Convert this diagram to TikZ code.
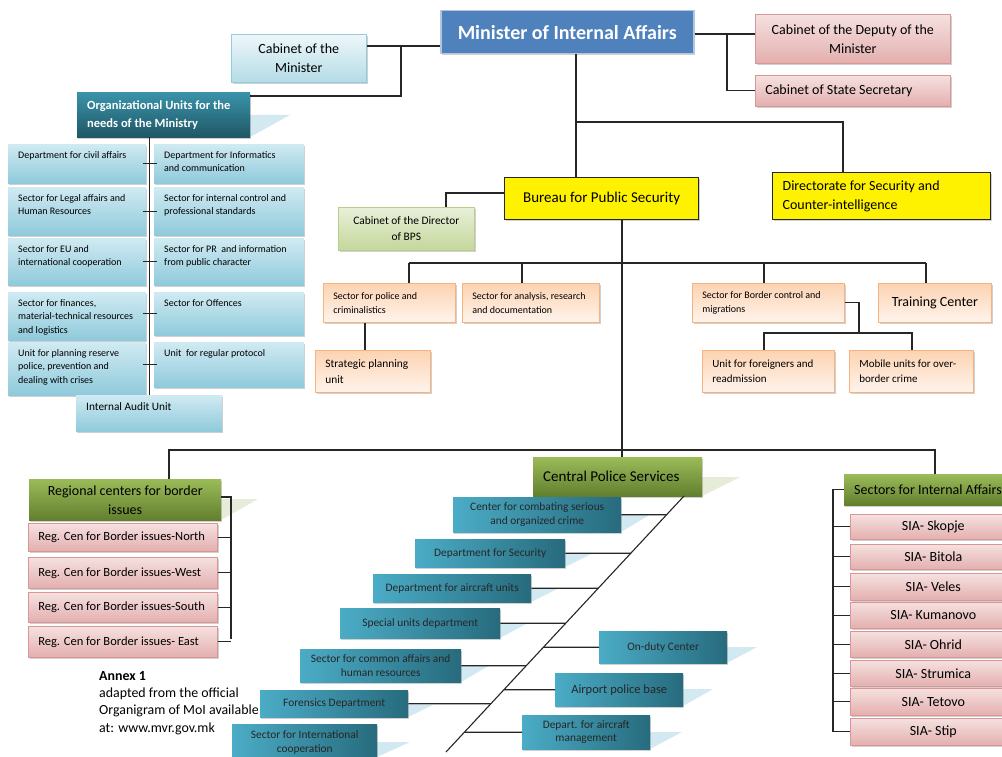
\documentclass[tikz,border=0pt]{standalone}
\usepackage{fontspec}
\setmainfont{Carlito}
\usetikzlibrary{shadows,intersections}
\definecolor{minblue}{HTML}{4F81BD}
\definecolor{lbA}{HTML}{EEF7FA}
\definecolor{lbB}{HTML}{B4DCE7}
\definecolor{lbD}{HTML}{93CDDD}
\definecolor{orgA}{HTML}{D0EAF2}
\definecolor{orgB}{HTML}{8FCADB}
\definecolor{thA}{HTML}{3A93AA}
\definecolor{thB}{HTML}{1F5766}
\definecolor{pkA}{HTML}{F5E1E0}
\definecolor{pkB}{HTML}{E3AFAE}
\definecolor{pkD}{HTML}{D99694}
\definecolor{orA}{HTML}{FCD3B2}
\definecolor{orB}{HTML}{FFF4EC}
\definecolor{orD}{HTML}{F9B27E}
\definecolor{lgA}{HTML}{E8F0D9}
\definecolor{lgB}{HTML}{C4D79B}
\definecolor{lgD}{HTML}{B9CE8C}
\definecolor{gA}{HTML}{9BBB59}
\definecolor{gB}{HTML}{627F2E}
\definecolor{tA}{HTML}{4BACC6}
\definecolor{tB}{HTML}{276B7D}
\definecolor{ltblue}{HTML}{D2E9F1}
\definecolor{ltgreen}{HTML}{E5EDD8}
\newcommand\bx[7]{\pgfmathsetmacro\bw{#5-#3}\pgfmathsetmacro\bh{#6-#4}%
  \node[box,align=center,#1,minimum width=\bw pt,minimum height=\bh pt] (#2) at (#3,#4) {#7};}
\newcommand\lbx[7]{\pgfmathsetmacro\bw{#5-#3}\pgfmathsetmacro\bh{#6-#4}\pgfmathsetmacro\tw{#5-#3-12}%
  \node[box,#1,minimum width=\bw pt,minimum height=\bh pt] (#2) at (#3,#4) {\hspace*{10pt}\parbox{\tw pt}{\raggedright #7}\hspace*{2pt}};}
\newcommand\tbx[7]{\pgfmathsetmacro\bw{#5-#3}\pgfmathsetmacro\bh{#6-#4}\pgfmathsetmacro\tw{#5-#3-12}%
  \node[box,#1,minimum width=\bw pt,minimum height=\bh pt] (#2) at (#3,#4) {\hspace*{10pt}\parbox[c][\bh pt][t]{\tw pt}{\vspace*{7pt}\raggedright #7}\hspace*{2pt}};}
\newcommand\tri[5]{\fill[#1] (#2,#3) -- ++(#4,0) -- (#2,#5) -- cycle;}
\newcommand\todiag[2]{\path[name path=hl] ([xshift=-400pt]#1.center) -- ([xshift=400pt]#1.center);
  \draw[conn,name intersections={of=diag and hl}] (#1.#2) -- (intersection-1);}
\begin{document}
\begin{tikzpicture}[x=1pt,y=-1pt,
  conn/.style={draw=black!85,line width=1.1pt},
  sh/.style={drop shadow={shadow xshift=1.2pt,shadow yshift=-1.5pt,opacity=.3,fill=black!60}},
  box/.style={anchor=north west,inner sep=0pt,sh},
  minst/.style={fill=minblue,draw=minblue!45,line width=1.5pt,text=white,font=\bfseries\fontsize{20}{23}\selectfont},
  lblue/.style={top color=lbA,bottom color=lbB,draw=lbD,line width=.6pt},
  orgb/.style={top color=orgA,bottom color=orgB,draw=none},
  tealhd/.style={top color=thA,bottom color=thB,text=white,font=\bfseries\fontsize{12.5}{18}\selectfont},
  pinkbox/.style={top color=pkA,bottom color=pkB,draw=pkD,line width=.6pt},
  orng/.style={top color=orA,bottom color=orB,draw=orD,line width=.8pt},
  yel/.style={fill=yellow,draw=black!85,line width=1.3pt},
  lgreen/.style={top color=lgA,bottom color=lgB,draw=lgD,line width=.6pt},
  ghd/.style={top color=gA,bottom color=gB,text=black},
  tealb/.style={left color=tA,right color=tB,text=black!85},
  f10/.style={font=\fontsize{10}{13.5}\selectfont},
  f11/.style={font=\fontsize{11}{15}\selectfont},
  f113/.style={font=\fontsize{11.3}{14}\selectfont},
  f114/.style={font=\fontsize{11.4}{13.6}\selectfont},
  f114b/.style={font=\fontsize{11.4}{16}\selectfont},
  f125/.style={font=\fontsize{12.5}{15}\selectfont},
  f14/.style={font=\fontsize{14}{19}\selectfont},
  f15/.style={font=\fontsize{15}{18}\selectfont}]
\useasboundingbox (0,0) rectangle (1002,757);
\fill[white] (0,0) rectangle (1002,757);

% perspective reflections
\tri{ltblue}{250}{115}{40}{137}
\tri{ltgreen}{702}{477}{38}{496}
\tri{ltgreen}{221}{499}{37}{520}
\tri{ltblue}{621}{514}{30}{532}
\tri{ltblue}{565}{553}{28}{567}
\tri{ltblue}{531}{589}{26}{602}
\tri{ltblue}{500}{623}{28}{638}
\tri{ltblue}{461}{665}{29}{682}
\tri{ltblue}{408}{705}{25}{717}
\tri{ltblue}{377}{742}{33}{757}
\tri{ltblue}{727}{647}{30}{663}
\tri{ltblue}{683}{689}{30}{706}
\tri{ltblue}{650}{732}{32}{749}

% top level
\bx{minst}{minister}{440}{10}{693}{53}{Minister of Internal Affairs}
\bx{lblue,f14}{cabmin}{231}{34}{366}{82}{Cabinet of the\\Minister}
\bx{pinkbox,f14}{deputy}{755}{14}{950}{63}{Cabinet of the Deputy of the\\Minister}
\lbx{pinkbox,f14}{statesec}{755}{75}{950}{106}{Cabinet of State Secretary}
\lbx{tealhd}{orgunits}{77}{92}{250}{137}{Organizational Units for the\\needs of the Ministry}

% organizational units
\tbx{orgb,f10}{r1L}{8}{144}{146}{183}{Department for civil affairs}
\tbx{orgb,f10}{r1R}{154}{144}{304}{183}{Department for Informatics\\and communication}
\tbx{orgb,f10}{r2L}{8}{187}{146}{235}{Sector for Legal affairs and\\Human Resources}
\tbx{orgb,f10}{r2R}{154}{187}{304}{235}{Sector for internal control and\\professional standards}
\tbx{orgb,f10}{r3L}{8}{238}{146}{285}{Sector for EU and\\international cooperation}
\tbx{orgb,f10}{r3R}{154}{238}{304}{285}{Sector for PR\ \ and information\\from public character}
\tbx{orgb,f10}{r4L}{8}{292}{146}{340}{Sector for finances,\\material-technical resources\\and logistics}
\tbx{orgb,f10}{r4R}{154}{292}{304}{335}{Sector for Offences}
\tbx{orgb,f10}{r5L}{8}{342}{146}{395}{Unit for planning reserve\\police, prevention and\\dealing with crises}
\tbx{orgb,f10}{r5R}{154}{342}{304}{387}{Unit\ \ for regular protocol}
\tbx{orgb,f113}{audit}{76}{395}{222}{431}{Internal Audit Unit}

% bureau
\bx{yel,f15}{bureau}{504}{177}{698}{219}{Bureau for Public Security}
\lbx{yel,f14}{directorate}{772}{172}{990}{219}{Directorate for Security and\\Counter-intelligence}
\bx{lgreen,f114b}{cabdir}{338}{207}{474}{250}{Cabinet of the Director\\of BPS}
\lbx{orng,f10}{police}{323}{283}{455}{322}{Sector for police and\\criminalistics}
\lbx{orng,f10}{analysis}{462}{283}{599}{322}{Sector for analysis, research\\and documentation}
\lbx{orng,f114b}{strategic}{315}{350}{430}{392}{Strategic planning\\unit}
\lbx{orng,f10}{border}{692}{283}{844}{322}{Sector for Border control and\\migrations}
\bx{orng,f14}{training}{878}{283}{991}{322}{Training Center}
\lbx{orng,f11}{foreigners}{702}{350}{834}{392}{Unit for foreigners and\\readmission}
\lbx{orng,f11}{mobile}{849}{350}{973}{392}{Mobile units for over-\\border crime}

% regional centers
\bx{ghd,f14}{regional}{29}{479}{221}{520}{Regional centers for border\\issues}
\lbx{pinkbox,f125}{regN}{28}{523}{217}{551}{Reg. Cen for Border issues-North}
\lbx{pinkbox,f125}{regW}{28}{557}{217}{588}{Reg. Cen for Border issues-West}
\lbx{pinkbox,f125}{regS}{28}{592}{217}{622}{Reg. Cen for Border issues-South}
\lbx{pinkbox,f125}{regE}{28}{626}{217}{657}{Reg. Cen for Border issues- East}

% central police services
\lbx{ghd,f15}{central}{533}{457}{702}{496}{Central Police Services}
\bx{tealb,f114}{combat}{453}{497}{621}{532}{Center for combating serious\\and organized crime}
\bx{tealb,f114}{security}{415}{539}{565}{567}{Department for Security}
\bx{tealb,f114}{aircraft}{373}{574}{531}{602}{Department for aircraft units}
\bx{tealb,f114}{special}{340}{608}{500}{638}{Special units department}
\bx{tealb,f114}{onduty}{599}{631}{727}{663}{On-duty Center}
\bx{tealb,f114}{common}{300}{649}{461}{682}{Sector for common affairs and\\human resources}
\bx{tealb,f125}{airport}{555}{673}{683}{706}{Airport police base}
\bx{tealb,f114}{forensics}{260}{690}{408}{717}{Forensics Department}
\bx{tealb,f114}{mgmt}{522}{715}{650}{749}{Depart. for aircraft\\management}
\bx{tealb,f114}{intl}{232}{724}{377}{761}{Sector for International\\cooperation}

% sectors for internal affairs
\lbx{ghd,f14}{sectors}{844}{474}{1020}{505}{Sectors for Internal Affairs}
\bx{pinkbox,f14}{sia1}{850}{514}{1016}{539}{SIA- Skopje}
\bx{pinkbox,f14}{sia2}{850}{544}{1016}{569}{SIA- Bitola}
\bx{pinkbox,f14}{sia3}{850}{573}{1016}{600}{SIA- Veles}
\bx{pinkbox,f14}{sia4}{850}{602}{1016}{628}{SIA- Kumanovo}
\bx{pinkbox,f14}{sia5}{850}{631}{1016}{657}{SIA- Ohrid}
\bx{pinkbox,f14}{sia6}{850}{660}{1016}{686}{SIA- Strumica}
\bx{pinkbox,f14}{sia7}{850}{688}{1016}{715}{SIA- Tetovo}
\bx{pinkbox,f14}{sia8}{850}{718}{1016}{745}{SIA- Stip}

\node[anchor=north west,align=left,inner sep=0pt,font=\fontsize{13.9}{17.3}\selectfont] (annex) at (99,671)
  {\textbf{Annex 1}\\adapted from the official\\Organigram of MoI available\\at: www.mvr.gov.mk};

% connectors: top
\draw[conn] (cabmin.east |- 0,46) -- (minister.west |- 0,46);
\draw[conn] (401,46) |- (orgunits.east |- 0,96);
\draw[conn] (minister.east |- 0,34) -- (deputy.west |- 0,34);
\draw[conn] (727,34) |- (statesec.west);
\draw[conn] (minister.south -| 576,0) -- (bureau.north -| 576,0);
\draw[conn] (576,122) -| (directorate.north -| 843,0);
% org spine and ticks
\draw[conn] (audit.north |- orgunits.south) -- (audit.north);
\foreach \a/\b in {r1L/r1R,r2L/r2R,r3L/r3R,r4L/r4R,r5L/r5R}
  \draw[conn] ([xshift=-3pt]\a.east |- \b.west) -- ([xshift=3pt]\b.west);
% bureau
\draw[conn] (bureau.west |- 0,193) -| (cabdir.north -| 446,0);
\draw[conn] (409,263) -- (926,263);
\draw[conn] (police.north -| 409,0) -- (409,263);
\draw[conn] (analysis.north -| 522,0) -- (522,263);
\draw[conn] (border.north -| 764,0) -- (764,263);
\draw[conn] (training.north -| 926,0) -- (926,263);
\draw[conn] (police.south -| 365,0) -- (strategic.north -| 365,0);
\draw[conn] (border.east) -| (859,333);
\draw[conn] (foreigners.north -| 764,0) -- (764,333) -- (912,333) -- (mobile.north -| 912,0);
% bottom level
\draw[conn] (bureau.south -| 622,0) -- (central.north -| 622,0);
\draw[conn] (regional.north -| 169,0) -- (169,450) -- (935,450) -- (sectors.north -| 935,0);
\draw[conn] (regional.east |- 0,497) -- (231,497) -- (231,639);
\foreach \r in {regN,regW,regS,regE}
  \draw[conn] (\r.east) -- (\r.east -| 231,0);
\draw[conn] (sectors.west) -| (sia8.west -| 833,0);
\foreach \s in {sia1,sia2,sia3,sia4,sia5,sia6,sia7,sia8}
  \draw[conn] (\s.west -| 833,0) -- (\s.west);
% central police diagonal
\coordinate (dtop) at (684,496);
\coordinate (dbot) at (446,752);
\draw[conn] (dtop) -- (dbot);
\path[name path=diag] (dtop) -- (dbot);
\todiag{combat}{east}
\todiag{security}{east}
\todiag{aircraft}{east}
\todiag{special}{east}
\todiag{common}{east}
\todiag{forensics}{east}
\todiag{onduty}{west}
\todiag{airport}{west}
\todiag{mgmt}{west}
\end{tikzpicture}
\end{document}
